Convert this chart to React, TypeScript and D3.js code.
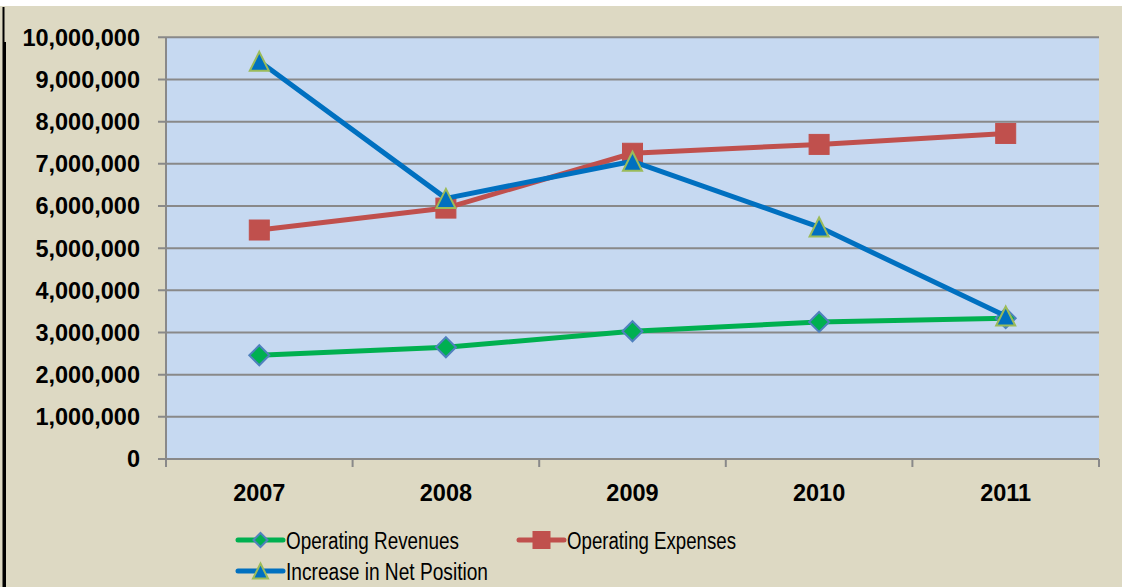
import React from 'react';
import * as d3 from 'd3';

const years = ['2007', '2008', '2009', '2010', '2011'];
const operatingRevenues = [2460000, 2650000, 3030000, 3250000, 3340000];
const operatingExpenses = [5430000, 5950000, 7250000, 7460000, 7720000];
const increaseInNetPosition = [9430000, 6180000, 7060000, 5500000, 3390000];
const yTicks = [0, 1000000, 2000000, 3000000, 4000000, 5000000, 6000000, 7000000, 8000000, 9000000, 10000000];

const W = 1122;
const H = 587;
const BG = '#DDD9C3';
const PLOT = '#C6D9F1';
const GRID = '#898989';
const GREEN = '#00B050';
const RED = '#C0504D';
const BLUE = '#0070C0';
const AXIS_FONT = "'Liberation Sans', Arial, sans-serif";
const LEGEND_FONT = "'Liberation Sans', Arial, sans-serif";

type MarkerKind = 'diamond' | 'square' | 'triangle';

function Marker({ kind, cx, cy, s }: { kind: MarkerKind; cx: number; cy: number; s: number }) {
  if (kind === 'diamond') {
    const h = s / 2;
    return (
      <path
        d={`M${cx},${cy - h}L${cx + h},${cy}L${cx},${cy + h}L${cx - h},${cy}Z`}
        fill={GREEN}
        stroke="#4F81BD"
        strokeWidth={2}
      />
    );
  }
  if (kind === 'square') {
    return <rect x={cx - s / 2} y={cy - s / 2} width={s} height={s} fill={RED} stroke={RED} strokeWidth={1} />;
  }
  const h = s / 2;
  return (
    <path
      d={`M${cx},${cy - h}L${cx + h},${cy + h}L${cx - h},${cy + h}Z`}
      fill={BLUE}
      stroke="#9BBB59"
      strokeWidth={2}
      strokeLinejoin="miter"
    />
  );
}

export default function App() {
  const x = d3.scaleBand<string>().domain(years).range([166, 1099]);
  const y = d3.scaleLinear().domain([0, 10000000]).range([459, 37.3]);
  const fmt = d3.format(',');
  const cx = (yr: string) => (x(yr) as number) + x.bandwidth() / 2;
  const line = d3
    .line<number>()
    .x((_, i) => cx(years[i]))
    .y((d) => y(d));

  const series: { name: string; values: number[]; color: string; kind: MarkerKind; size: number }[] = [
    { name: 'Operating Revenues', values: operatingRevenues, color: GREEN, kind: 'diamond', size: 20 },
    { name: 'Operating Expenses', values: operatingExpenses, color: RED, kind: 'square', size: 20 },
    { name: 'Increase in Net Position', values: increaseInNetPosition, color: BLUE, kind: 'triangle', size: 19 },
  ];

  const boundaries = [...years.map((yr) => x(yr) as number), x.range()[1]];

  const legendItems = [
    { s: series[0], lx: 238, ly: 540, ms: 14, tw: 173 },
    { s: series[1], lx: 519, ly: 540, ms: 17, tw: 169 },
    { s: series[2], lx: 238, ly: 571, ms: 15, tw: 202 },
  ];

  return (
    <svg width={W} height={H} style={{ position: 'absolute', left: 0, top: 0, display: 'block' }}>
      <rect x={0} y={0} width={W} height={H} fill={BG} />
      <rect x={0} y={0} width={W} height={6} fill="#FFFFFF" />
      <line x1={3.5} y1={7} x2={3.5} y2={H} stroke="#000" strokeWidth={2} />
      <rect x={3} y={42} width={3} height={H - 42} fill="#000" />

      <rect x={166} y={y(10000000)} width={1099 - 166} height={y(0) - y(10000000)} fill={PLOT} />

      {yTicks.map((t) => (
        <line key={t} x1={158} x2={1099} y1={y(t)} y2={y(t)} stroke={GRID} strokeWidth={2} />
      ))}
      <line x1={166} x2={166} y1={y(10000000)} y2={467} stroke={GRID} strokeWidth={2} />
      {boundaries.map((b, i) => (
        <line key={i} x1={b} x2={b} y1={459} y2={467} stroke={GRID} strokeWidth={2} />
      ))}

      {yTicks.map((t) => (
        <text
          key={t}
          x={140}
          y={y(t)}
          dy="0.36em"
          textAnchor="end"
          fontFamily={AXIS_FONT}
          fontWeight="bold"
          fontSize={23.5}
          fill="#000"
        >
          {fmt(t)}
        </text>
      ))}
      {years.map((yr) => (
        <text
          key={yr}
          x={cx(yr)}
          y={501}
          textAnchor="middle"
          fontFamily={AXIS_FONT}
          fontWeight="bold"
          fontSize={23.5}
          fill="#000"
        >
          {yr}
        </text>
      ))}

      {series.map((s) => (
        <g key={s.name}>
          <path d={line(s.values) || ''} fill="none" stroke={s.color} strokeWidth={5} strokeLinejoin="round" />
          {s.values.map((v, i) => (
            <Marker key={i} kind={s.kind} cx={cx(years[i])} cy={y(v)} s={s.size} />
          ))}
        </g>
      ))}

      {legendItems.map(({ s, lx, ly, ms, tw }) => (
        <g key={s.name}>
          <line x1={lx} x2={lx + 45} y1={ly} y2={ly} stroke={s.color} strokeWidth={5} strokeLinecap="round" />
          <Marker kind={s.kind} cx={lx + 22.5} cy={ly} s={ms} />
          <text
            x={lx + 48}
            y={ly + 8.5}
            fontFamily={LEGEND_FONT}
            fontSize={23}
            fill="#000"
            textLength={tw}
            lengthAdjust="spacingAndGlyphs"
          >
            {s.name}
          </text>
        </g>
      ))}
    </svg>
  );
}
